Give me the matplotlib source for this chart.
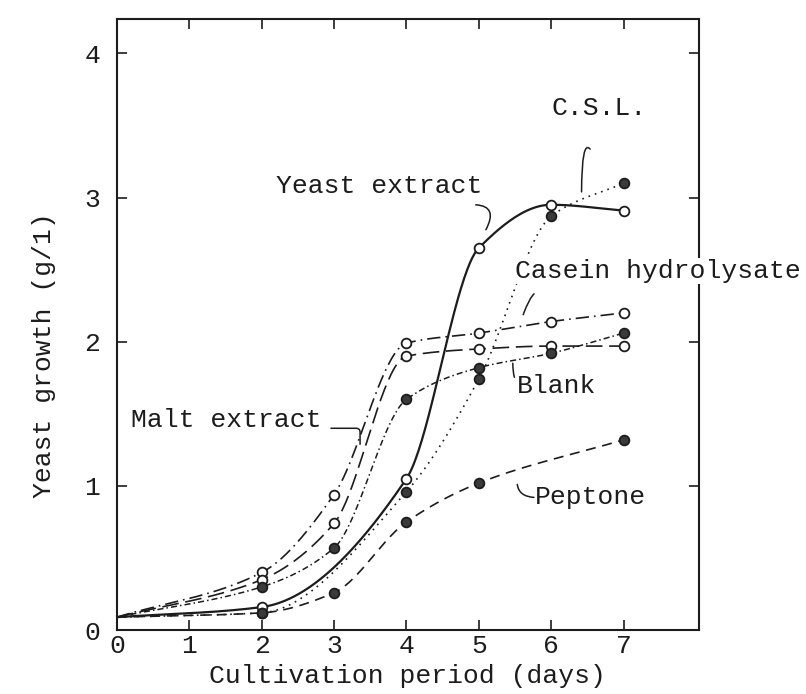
import numpy as np
import matplotlib
matplotlib.use("Agg")
from matplotlib import pyplot as plt

# growth curves, g/l of yeast against days of cultivation
yeast_x = [0, 2, 4, 5, 6, 7]
yeast_y = [0.09, 0.16, 1.05, 2.65, 2.95, 2.91]

csl_x = [0, 2, 4, 5, 6, 7]
csl_y = [0.09, 0.12, 0.96, 1.74, 2.87, 3.10]

casein_x = [0, 2, 3, 4, 5, 6, 7]
casein_y = [0.09, 0.40, 0.94, 1.99, 2.06, 2.14, 2.20]

malt_x = [0, 2, 3, 4, 5, 6, 7]
malt_y = [0.09, 0.35, 0.74, 1.90, 1.95, 1.97, 1.97]

blank_x = [0, 2, 3, 4, 5, 6, 7]
blank_y = [0.09, 0.30, 0.57, 1.60, 1.82, 1.92, 2.06]

peptone_x = [0, 2, 3, 4, 5, 7]
peptone_y = [0.09, 0.12, 0.26, 0.75, 1.02, 1.32]

x_ticks = [0, 1, 2, 3, 4, 5, 6, 7]
y_ticks = [0, 1, 2, 3, 4]

FONT = "Liberation Mono"
INK = "#1c1c1c"


def pchip(x, y, n=300):
    # monotone cubic so the hand drawn look stays without overshoot
    x = np.asarray(x, float)
    y = np.asarray(y, float)
    h = np.diff(x)
    d = np.diff(y) / h
    m = np.zeros_like(y)
    m[0], m[-1] = d[0], d[-1]
    for k in range(1, len(x) - 1):
        if d[k - 1] * d[k] <= 0:
            m[k] = 0
        else:
            w1 = 2 * h[k] + h[k - 1]
            w2 = h[k] + 2 * h[k - 1]
            m[k] = (w1 + w2) / (w1 / d[k - 1] + w2 / d[k])
    xs = np.linspace(x[0], x[-1], n)
    idx = np.clip(np.searchsorted(x, xs) - 1, 0, len(h) - 1)
    t = (xs - x[idx]) / h[idx]
    h00 = 2 * t**3 - 3 * t**2 + 1
    h10 = t**3 - 2 * t**2 + t
    h01 = -2 * t**3 + 3 * t**2
    h11 = t**3 - t**2
    ys = (h00 * y[idx] + h10 * h[idx] * m[idx]
          + h01 * y[idx + 1] + h11 * h[idx] * m[idx + 1])
    return xs, ys


fig = plt.figure(figsize=(8.06, 6.94), dpi=100)
ax = fig.add_axes([0.145, 0.092, 0.722, 0.881])

series = [
    (yeast_x, yeast_y, "-", 1.6, "white"),
    (csl_x, csl_y, (0, (1, 3)), 1.2, "#3a3a3a"),
    (casein_x, casein_y, (0, (8, 3, 1, 3)), 1.2, "white"),
    (malt_x, malt_y, (0, (10, 4)), 1.2, "white"),
    (blank_x, blank_y, (0, (4, 2, 1, 2)), 1.1, "#3a3a3a"),
    (peptone_x, peptone_y, (0, (6, 4)), 1.2, "#3a3a3a"),
]
for x, y, ls, lw, face in series:
    xs, ys = pchip(x, y)
    ax.plot(xs, ys, color=INK, linestyle=ls, linewidth=lw)
    ax.plot(x[1:], y[1:], "o", ms=7, mfc=face, mec=INK, mew=1.3, zorder=3)

ax.set_xlim(0, 8.04)
ax.set_ylim(0, 4.24)
ax.set_xticks(x_ticks)
ax.set_yticks(y_ticks)
ax.tick_params(direction="in", length=7, width=1.2, top=True, right=True,
               labelsize=19, colors=INK)
ax.tick_params(axis="y", pad=12)
ax.tick_params(axis="x", pad=3)
for lab in ax.get_xticklabels() + ax.get_yticklabels():
    lab.set_family(FONT)
for s in ax.spines.values():
    s.set_linewidth(1.5)
    s.set_color(INK)

ax.set_xlabel("Cultivation period (days)", family=FONT, fontsize=19,
              color=INK, labelpad=4)
ax.set_ylabel("Yeast growth (g/1)", family=FONT, fontsize=19, color=INK)
ax.yaxis.set_label_coords(-0.105, 0.45)

# curve names with small hand drawn leaders
txt = dict(family=FONT, fontsize=19, color=INK)
lead = dict(arrowstyle="-", color=INK, lw=1.1)
ax.annotate("Yeast extract", xy=(5.08, 2.76), xytext=(2.2, 3.08),
            va="center", ha="left", **txt)
ax.annotate("", xy=(5.08, 2.76), xytext=(4.92, 2.95),
            arrowprops=dict(connectionstyle="angle3,angleA=0,angleB=60", **lead))
ax.annotate("C.S.L.", xy=(6.42, 3.02), xytext=(6.0, 3.62),
            va="center", ha="left", **txt)
ax.annotate("", xy=(6.42, 3.02), xytext=(6.56, 3.32),
            arrowprops=dict(connectionstyle="angle3,angleA=-60,angleB=90", **lead))
ax.annotate("Casein hydrolysate", xy=(5.6, 2.17), xytext=(5.5, 2.49),
            va="center", ha="left", annotation_clip=False,
            bbox=dict(boxstyle="square,pad=0.05", fc="white", ec="none"),
            zorder=5, **txt)
ax.annotate("", xy=(5.6, 2.17), xytext=(5.8, 2.34),
            arrowprops=dict(connectionstyle="angle3,angleA=0,angleB=70", **lead))
ax.annotate("Blank", xy=(5.47, 1.87), xytext=(5.53, 1.69),
            va="center", ha="left", **txt)
ax.annotate("", xy=(5.47, 1.87), xytext=(5.52, 1.74),
            arrowprops=dict(connectionstyle="angle3,angleA=0,angleB=90", **lead))
ax.annotate("Malt extract", xy=(0.19, 1.46), va="center", ha="left", **txt)
ax.annotate("", xy=(3.36, 1.27), xytext=(2.92, 1.40),
            arrowprops=dict(connectionstyle="angle,angleA=0,angleB=90,rad=4", **lead))
ax.annotate("Peptone", xy=(5.78, 0.92), va="center", ha="left", **txt)
ax.annotate("", xy=(5.53, 1.03), xytext=(5.8, 0.92),
            arrowprops=dict(connectionstyle="angle3,angleA=0,angleB=90", **lead))

fig.savefig("out.png", dpi=100, facecolor="white")
